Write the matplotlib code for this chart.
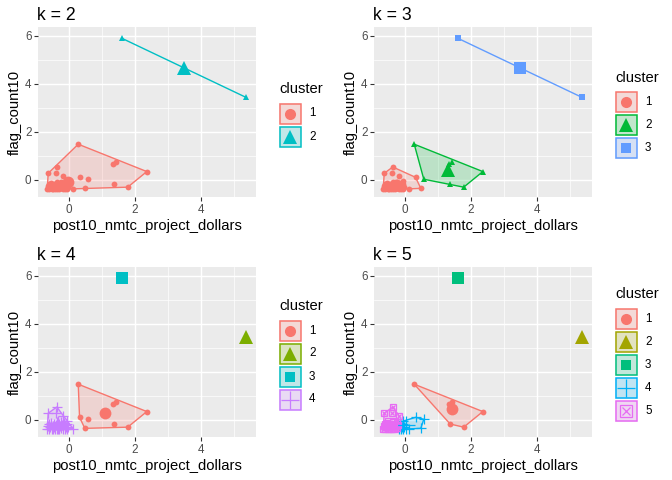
import matplotlib
matplotlib.use("Agg")
import matplotlib.pyplot as plt
from matplotlib.patches import Polygon, Rectangle
import numpy as np

plt.rcParams['font.family'] = ['Liberation Sans', 'DejaVu Sans']

#----------------------------------------------------------------------------------------------------
# data (standardised values)
#----------------------------------------------------------------------------------------------------
x_vals = [1.61, 5.37, 0.28, 2.36, 1.78, 1.44, 1.32, 1.37, 0.57, 0.32, 0.48, 0.13,
          -0.37, -0.38, -0.63, -0.18,
          -0.66, -0.64, -0.62, -0.60, -0.57, -0.55, -0.53, -0.50, -0.48, -0.46, -0.44,
          -0.41, -0.39, -0.37, -0.35, -0.33, -0.31, -0.29, -0.27, -0.25, -0.23, -0.22,
          -0.19, -0.17, -0.15, -0.13, -0.11, -0.09, -0.07, -0.05, -0.03, -0.06]
y_vals = [5.90, 3.44, 1.49, 0.35, -0.30, 0.76, 0.67, -0.17, 0.03, 0.11, -0.35, -0.37,
          0.54, 0.31, 0.28, 0.18,
          -0.36, -0.27, -0.18, -0.36, -0.30, -0.12, -0.36, -0.24, -0.36, -0.17, -0.30,
          -0.36, -0.22, -0.10, -0.36, -0.28, -0.17, -0.36, -0.24, -0.08, -0.33, -0.20,
          -0.36, -0.26, -0.12, -0.36, -0.22, -0.31, -0.36, -0.15, -0.28, -0.05]

n_dense = 32
labels_k2 = [2, 2] + [1] * 14 + [1] * n_dense
labels_k3 = [3, 3] + [2] * 7 + [1] * 7 + [1] * n_dense
labels_k4 = [3, 2] + [1] * 9 + [4] * 5 + [4] * n_dense
labels_k5 = [3, 2] + [1] * 6 + [4] * 4 + [5] * 4 + [5] * 22 + [4] * 10

ks = [2, 3, 4, 5]
all_labels = {2: labels_k2, 3: labels_k3, 4: labels_k4, 5: labels_k5}
palettes = {
    2: ['#F8766D', '#00BFC4'],
    3: ['#F8766D', '#00BA38', '#619CFF'],
    4: ['#F8766D', '#7CAE00', '#00BFC4', '#C77CFF'],
    5: ['#F8766D', '#A3A500', '#00BF7D', '#00B0F6', '#E76BF3'],
}
shapes = ['o', '^', 's', '+', 'sx']
pt_size = {'o': 4.2, '^': 4.8, 's': 3.8, '+': 7.5, 'sx': 5.0}
cent_size = {'o': 8.5, '^': 10.0, 's': 8.5, '+': 13.0, 'sx': 9.0}
leg_size = {'o': 8.0, '^': 9.5, 's': 7.5, '+': 12.5, 'sx': 8.5}

xlim = (-0.94, 5.67)
ylim = (-0.71, 6.375)

W, H = 672, 480


def hull(pts):
    pts = sorted(set(pts))
    if len(pts) < 3:
        return pts
    def cross(o, a, b):
        return (a[0] - o[0]) * (b[1] - o[1]) - (a[1] - o[1]) * (b[0] - o[0])
    lower, upper = [], []
    for p in pts:
        while len(lower) >= 2 and cross(lower[-2], lower[-1], p) <= 0:
            lower.pop()
        lower.append(p)
    for p in reversed(pts):
        while len(upper) >= 2 and cross(upper[-2], upper[-1], p) <= 0:
            upper.pop()
        upper.append(p)
    return lower[:-1] + upper[:-1]


def draw_marker(ax, x, y, shape, color, size, zorder):
    if shape == 'sx':
        ax.plot(x, y, ls='none', marker='s', ms=size, mfc='none', mec=color,
                mew=0.9, zorder=zorder)
        ax.plot(x, y, ls='none', marker='x', ms=size * 0.7, mec=color,
                mew=0.9, zorder=zorder)
    elif shape == '+':
        ax.plot(x, y, ls='none', marker='+', ms=size, mec=color, mew=0.9, zorder=zorder)
    else:
        ax.plot(x, y, ls='none', marker=shape, ms=size, color=color, mew=0, zorder=zorder)


fig = plt.figure(figsize=(W / 100, H / 100), dpi=100)
overlay = fig.add_axes([0, 0, 1, 1], zorder=10)
overlay.set_xlim(0, W)
overlay.set_ylim(H, 0)
overlay.axis('off')

xs = np.array(x_vals)
ys = np.array(y_vals)

for i, k in enumerate(ks):
    ox = (i % 2) * 336
    oy = (i // 2) * 240
    ax = fig.add_axes([(ox + 38) / W, 1 - (oy + 197) / H, 218 / W, 170 / H])
    ax.set_facecolor('#EBEBEB')
    for s in ax.spines.values():
        s.set_visible(False)
    ax.set_xlim(*xlim)
    ax.set_ylim(*ylim)
    ax.set_xticks([0, 2, 4])
    ax.set_xticks([1, 3, 5], minor=True)
    ax.set_yticks([0, 2, 4, 6])
    ax.set_yticks([1, 3, 5], minor=True)
    ax.grid(which='major', color='white', lw=1.05)
    ax.grid(which='minor', color='white', lw=0.5)
    ax.set_axisbelow(True)
    ax.tick_params(which='major', length=2.7, width=0.8, color='#333333',
                   labelcolor='#4D4D4D', labelsize=8.4, pad=2)
    ax.tick_params(which='minor', length=0)

    lab = np.array(all_labels[k])
    cols = palettes[k]
    # hulls
    for c in range(1, k + 1):
        m = lab == c
        h = hull(list(zip(xs[m], ys[m])))
        if len(h) >= 3:
            ax.add_patch(Polygon(h, closed=True, facecolor=cols[c - 1], alpha=0.2,
                                 edgecolor='none', zorder=2))
            ax.add_patch(Polygon(h, closed=True, facecolor='none',
                                 edgecolor=cols[c - 1], lw=1.0, zorder=2.1))
        elif len(h) == 2:
            ax.plot([p[0] for p in h], [p[1] for p in h], color=cols[c - 1], lw=1.0, zorder=2.1)
    # points
    for c in range(1, k + 1):
        m = lab == c
        draw_marker(ax, xs[m], ys[m], shapes[c - 1], cols[c - 1], pt_size[shapes[c - 1]], 3)
    # centroids
    for c in range(1, k + 1):
        m = lab == c
        draw_marker(ax, [xs[m].mean()], [ys[m].mean()], shapes[c - 1], cols[c - 1],
                    cent_size[shapes[c - 1]], 4)

    # texts
    fig.text((ox + 37) / W, 1 - (oy + 15) / H, 'k = %d' % k, ha='left', va='center',
             fontsize=12.7)
    fig.text((ox + 147) / W, 1 - (oy + 226) / H, 'post10_nmtc_project_dollars',
             ha='center', va='center', fontsize=10.6)
    fig.text((ox + 15) / W, 1 - (oy + 112) / H, 'flag_count10', ha='center',
             va='center', rotation=90, fontsize=10.6)

    # legend
    block = 20 + k * 23
    top = oy + 115 - block / 2
    overlay.text(ox + 279, top + 7, 'cluster', ha='left', va='center', fontsize=10.6)
    for c in range(1, k + 1):
        ky = top + 20 + (c - 1) * 23
        overlay.add_patch(Rectangle((ox + 279, ky + 1), 22, 21, facecolor='#F2F2F2',
                                    edgecolor='none'))
        overlay.add_patch(Rectangle((ox + 279.5, ky + 1.5), 21, 20, facecolor=cols[c - 1],
                                    alpha=0.2, edgecolor='none'))
        overlay.add_patch(Rectangle((ox + 279.5, ky + 1.5), 21, 20, facecolor='none',
                                    edgecolor=cols[c - 1], lw=1.1))
        draw_marker(overlay, [ox + 290], [ky + 11.5], shapes[c - 1], cols[c - 1],
                    leg_size[shapes[c - 1]], 12)
        overlay.text(ox + 309, ky + 11.5, str(c), ha='left', va='center', fontsize=8.4)

fig.savefig('out.png', dpi=100)
